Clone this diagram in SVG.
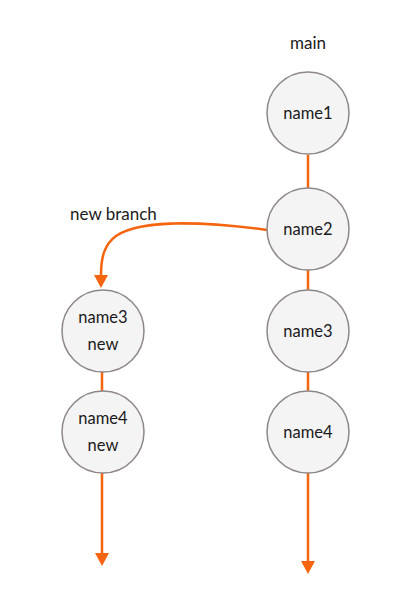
<svg xmlns="http://www.w3.org/2000/svg" width="414" height="600" viewBox="0 0 414 600">
<style>
.n{fill:#f5f4f4;stroke:#8f8787;stroke-width:1.5}
.t{font-family:Lato,"Open Sans",sans-serif;font-size:16.5px;fill:#1a1a1a;text-anchor:middle}
.l{font-family:Lato,"Open Sans",sans-serif;font-size:17px;fill:#1a1a1a}
.c{stroke:#f5640f;stroke-width:2.5;fill:none}
</style>
<rect width="414" height="600" fill="#ffffff"/>
<text class="l" x="308" y="49" text-anchor="middle">main</text>
<text class="l" x="70" y="220">new branch</text>
<g id="connectors">
<line class="c" x1="308" y1="155" x2="308" y2="188"/>
<line class="c" x1="308" y1="270" x2="308" y2="290"/>
<line class="c" x1="308" y1="372" x2="308" y2="391"/>
<path class="c" d="M308,473 L308,561"/>
<path d="M301,561 L315,561 L308,574 Z" fill="#f5640f"/>
<line class="c" x1="102" y1="372" x2="102" y2="391"/>
<path class="c" d="M102,473 L102,553"/>
<path d="M95,553 L109,553 L102,566 Z" fill="#f5640f"/>
<path class="c" d="M267,230 C200,221 140,220 116,236 C105,244 101,256 101,275"/>
<path d="M94,275 L108,275 L101,288 Z" fill="#f5640f"/>
</g>
<g id="name1"><circle class="n" cx="308" cy="113" r="41"/><text class="t" x="308" y="119">name1</text></g>
<g id="name2"><circle class="n" cx="308" cy="229" r="41"/><text class="t" x="308" y="235">name2</text></g>
<g id="name3"><circle class="n" cx="308" cy="331" r="41"/><text class="t" x="308" y="337">name3</text></g>
<g id="name4"><circle class="n" cx="308" cy="432" r="41"/><text class="t" x="308" y="438">name4</text></g>
<g id="name3new"><circle class="n" cx="103" cy="331" r="41"/><text class="t" x="103" y="323">name3</text><text class="t" x="103" y="350">new</text></g>
<g id="name4new"><circle class="n" cx="103" cy="432" r="41"/><text class="t" x="103" y="424">name4</text><text class="t" x="103" y="451">new</text></g>
</svg>
